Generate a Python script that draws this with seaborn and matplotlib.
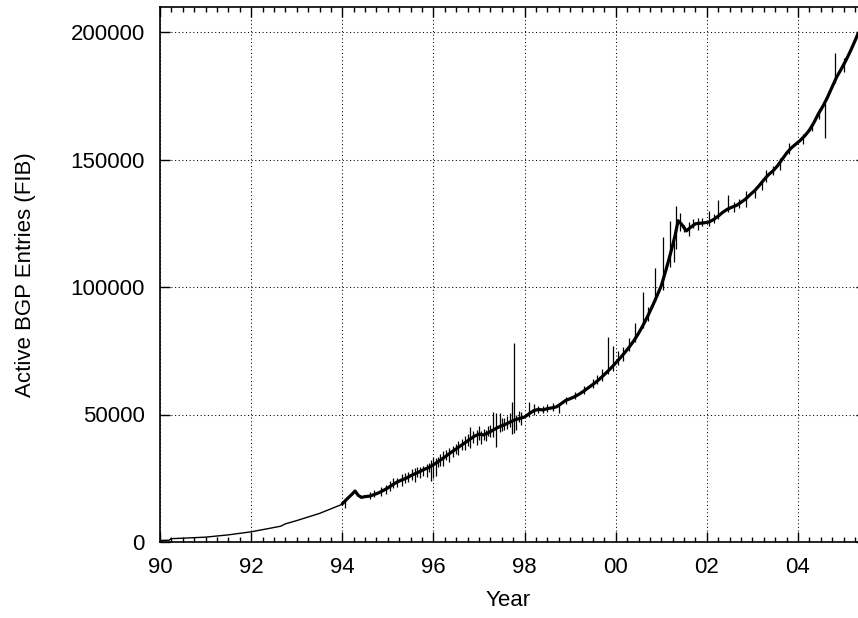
import numpy as np
import pandas as pd
import matplotlib
matplotlib.use("Agg")
import matplotlib.pyplot as plt
import seaborn as sns
from matplotlib.ticker import MultipleLocator, FixedLocator, FixedFormatter

# ---------------- data ----------------
early_years = [1990.0, 1990.2, 1990.24, 1990.5, 1991.0, 1991.5, 1992.0, 1992.3,
               1992.65, 1992.75, 1993.0, 1993.5, 1994.0]
early_vals = [600, 700, 1300, 1500, 1900, 2800, 4000, 5000,
              6200, 7100, 8400, 11200, 14800]

late_years = [1994.0, 1994.1, 1994.2, 1994.28, 1994.35, 1994.42, 1994.5, 1994.6,
              1994.7, 1994.8, 1994.9, 1995.0, 1995.1, 1995.2, 1995.3, 1995.4,
              1995.5, 1995.6, 1995.7, 1995.8, 1995.9, 1996.0, 1996.1, 1996.2,
              1996.3, 1996.4, 1996.5, 1996.6, 1996.7, 1996.8, 1996.9, 1997.0,
              1997.1, 1997.2, 1997.3, 1997.4, 1997.5, 1997.6, 1997.7, 1997.8,
              1997.9, 1998.0, 1998.1, 1998.2, 1998.3, 1998.4, 1998.5, 1998.6,
              1998.7, 1998.8, 1998.9, 1999.0, 1999.1, 1999.2, 1999.3, 1999.4,
              1999.5, 1999.6, 1999.7, 1999.8, 1999.9, 2000.0, 2000.1, 2000.2,
              2000.3, 2000.4, 2000.5, 2000.6, 2000.7, 2000.8, 2000.9, 2001.0,
              2001.1, 2001.2, 2001.3, 2001.37, 2001.45, 2001.55, 2001.65, 2001.75,
              2001.85, 2001.95, 2002.05, 2002.15, 2002.25, 2002.35, 2002.45, 2002.55,
              2002.65, 2002.75, 2002.85, 2002.95, 2003.05, 2003.15, 2003.25, 2003.35,
              2003.45, 2003.55, 2003.65, 2003.75, 2003.85, 2003.95, 2004.05, 2004.15,
              2004.25, 2004.35, 2004.45, 2004.55, 2004.65, 2004.75, 2004.85, 2004.95,
              2005.05, 2005.15, 2005.25, 2005.32]
late_vals = [15000, 16800, 18500, 20000, 18300, 17500, 17800, 18000,
             18600, 19300, 20200, 21200, 22400, 23500, 24300, 25000,
             26000, 26800, 27600, 28500, 29200, 30300, 31500, 32700,
             34000, 35300, 36500, 37800, 39000, 40300, 41500, 42300,
             42000, 42800, 43800, 44800, 45600, 46300, 47200, 48000,
             48500, 49000, 50300, 51500, 52000, 51800, 52300, 52600,
             53000, 54200, 55500, 56200, 57000, 58000, 59200, 60500,
             61800, 63200, 64800, 66500, 68300, 70200, 72200, 74300,
             76500, 79000, 81800, 85000, 88500, 92300, 96300, 100500,
             106500, 113000, 120000, 126000, 124500, 122000, 123500, 124800,
             125000, 125200, 125500, 126500, 127800, 129300, 130500, 131300,
             132000, 133200, 134500, 136200, 137800, 139800, 142000, 144000,
             145500, 147500, 150000, 152500, 154500, 156000, 157500, 159300,
             161500, 164500, 168000, 171000, 174500, 178500, 182400, 185500,
             188800, 192500, 196500, 199500]

spike_years = [1994.05, 1994.6, 1994.85, 1995.05, 1995.2, 1995.3, 1995.45, 1995.6,
               1995.7, 1995.85, 1995.95, 1996.0, 1996.05, 1996.2, 1996.35, 1996.55,
               1996.7, 1996.8, 1996.95, 1997.05, 1997.2, 1997.3, 1997.38, 1997.45,
               1997.55, 1997.72, 1997.76, 1997.82, 1997.92, 1998.1, 1998.2, 1998.5,
               1998.75, 1999.7, 1999.83, 1999.93, 2000.05, 2000.15, 2000.3, 2000.42,
               2000.59, 2000.7, 2000.86, 2001.03, 2001.2, 2001.27, 2001.32, 2001.4,
               2001.6, 2001.8, 2002.05, 2002.24, 2002.46, 2002.6, 2002.85, 2003.05,
               2003.3, 2003.6, 2004.1, 2004.6, 2004.82, 2005.0,
               1994.7, 1994.95, 1995.12, 1995.37, 1995.52, 1995.65, 1995.77, 1995.9,
               1996.1, 1996.15, 1996.27, 1996.43, 1996.5, 1996.62, 1996.75, 1996.87,
               1997.0, 1997.1, 1997.15, 1997.25, 1997.5, 1997.62, 1997.67, 1997.87,
               1998.3, 1998.4, 1998.62, 1998.9, 1999.1, 1999.3, 1999.5, 1999.6,
               2001.5, 2001.7, 2001.9, 2002.15, 2002.7, 2003.2, 2003.45, 2003.8,
               2004.3, 2004.45]
spike_lo = [13500, 17000, 18000, 20000, 21500, 22000, 23500, 23500,
            25000, 25500, 24000, 25000, 26000, 30000, 31500, 34000,
            36000, 37000, 38000, 38500, 41500, 41000, 37300, 43000,
            44000, 42500, 42700, 44000, 46000, 49000, 50000, 51000,
            50500, 63000, 66000, 67000, 69500, 71000, 75000, 78500,
            84000, 86500, 94000, 99000, 108000, 110000, 115000, 122000,
            120000, 122500, 124000, 126500, 129500, 129500, 131500, 135000,
            141000, 146000, 156000, 158400, 180000, 184500,
            17500, 19000, 21000, 23000, 24500, 25500, 26000, 27500,
            29500, 30000, 32000, 33500, 34500, 36000, 37500, 39000,
            40000, 40000, 39500, 41000, 43500, 44500, 45000, 47000,
            50500, 50500, 51500, 54000, 56000, 58000, 60500, 62000,
            121500, 123000, 124000, 125000, 131000, 138000, 144000, 152000,
            161000, 166000]
spike_hi = [16500, 19500, 21500, 24000, 25000, 26500, 27500, 29000,
            29500, 30500, 32000, 33500, 33000, 35500, 37000, 39500,
            41500, 45000, 44000, 43500, 45500, 51000, 50600, 50500,
            48500, 55000, 78000, 50000, 51000, 55000, 54000, 54000,
            54500, 68000, 80400, 77000, 75000, 76500, 80000, 86000,
            98000, 92000, 107500, 119600, 126000, 118000, 131800, 129000,
            125500, 127000, 130000, 134000, 136000, 133500, 137500, 139000,
            146000, 150500, 160000, 172000, 191800, 190000,
            20500, 22500, 25000, 27000, 28500, 29500, 30000, 31000,
            33500, 34500, 36000, 37500, 38500, 40500, 42500, 43500,
            45500, 44500, 44000, 46000, 48500, 49500, 50500, 51500,
            53500, 53500, 54500, 57000, 59000, 61000, 64000, 65500,
            124500, 126500, 127000, 128500, 134500, 141500, 147500, 156500,
            164000, 170000]

xtick_years = [1990, 1992, 1994, 1996, 1998, 2000, 2002, 2004]
xtick_labels = ["90", "92", "94", "96", "98", "00", "02", "04"]
ytick_values = [0, 50000, 100000, 150000, 200000]
ytick_labels = ["0", "50000", "100000", "150000", "200000"]

# ---------------- style ----------------
sns.set_theme(style="ticks", rc={
    "axes.edgecolor": "black",
    "axes.labelcolor": "black",
    "xtick.color": "black",
    "ytick.color": "black",
    "text.color": "black",
})
plt.rcParams["font.family"] = ["Liberation Sans", "DejaVu Sans"]

FS = 16
fig = plt.figure(figsize=(8.58, 6.18), dpi=100)
W, H = 858.0, 618.0
left_px, right_px, top_px, bottom_px = 160, 866, 7, 542
ax = fig.add_axes([left_px / W, (H - bottom_px) / H,
                   (right_px - left_px) / W, (bottom_px - top_px) / H])

df_early = pd.DataFrame({"year": early_years, "entries": early_vals})
df_late = pd.DataFrame({"year": late_years, "entries": late_vals})

sns.lineplot(data=df_early, x="year", y="entries", ax=ax, color="black",
             linewidth=1.0, estimator=None, sort=False)
sns.lineplot(data=df_late, x="year", y="entries", ax=ax, color="black",
             linewidth=2.3, estimator=None, sort=False)
ax.vlines(spike_years, spike_lo, spike_hi, color="black", linewidth=0.9)

px_per_year = (798 - 160) / 14.0
ax.set_xlim(1990, 1990 + (right_px - left_px) / px_per_year)
ax.set_ylim(0, (bottom_px - top_px) / 2.55 * 1000)

ax.xaxis.set_major_locator(FixedLocator(xtick_years))
ax.xaxis.set_major_formatter(FixedFormatter(xtick_labels))
ax.xaxis.set_minor_locator(MultipleLocator(0.25))
ax.yaxis.set_major_locator(FixedLocator(ytick_values))
ax.yaxis.set_major_formatter(FixedFormatter(ytick_labels))

ax.tick_params(which="both", direction="in", top=True, right=True,
               bottom=True, left=True, labelsize=FS, colors="black")
ax.tick_params(which="major", length=7, width=1.0, pad=11)
ax.tick_params(which="minor", length=3.6, width=1.0)

ax.grid(True, which="major", color="black", linestyle=(0, (1, 2.5)),
        linewidth=0.75)
ax.set_axisbelow(True)
for s in ax.spines.values():
    s.set_visible(True)
    s.set_color("black")
    s.set_linewidth(1.2)

ax.set_xlabel("Year", fontsize=FS)
ax.set_ylabel("Active BGP Entries (FIB)", fontsize=FS)
ax.xaxis.set_label_coords((508 - left_px) / (right_px - left_px), (bottom_px - 590) / (bottom_px - top_px))
ax.yaxis.set_label_coords((36 - left_px) / (right_px - left_px), 0.5)

fig.savefig("out.png", dpi=100)
